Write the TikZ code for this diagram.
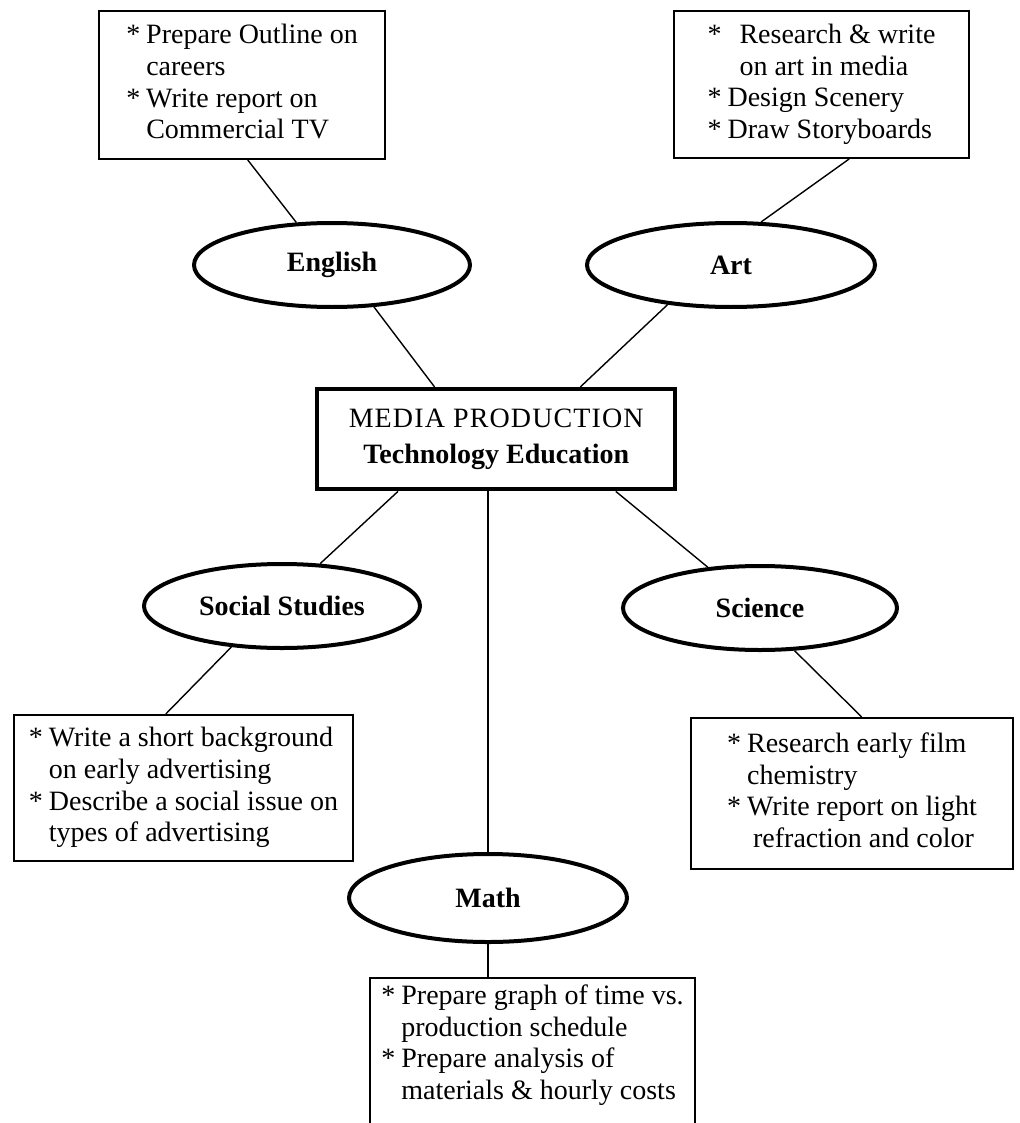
\documentclass[tikz,border=0pt]{standalone}
\usepackage{fontspec}
\setmainfont{Liberation Serif}
\newfontfamily\spacedserif[LetterSpace=4]{Liberation Serif}
\usetikzlibrary{shapes.geometric,calc}
\newcommand{\tasklist}[1]{\begin{tabular}{@{}l@{\hspace{3pt}}l@{}}#1\end{tabular}}
\newcommand{\bul}{{*}}
\begin{document}
\begin{tikzpicture}[x={(0.5pt,0)}, y={(0,-0.5pt)},
  subj/.style={ellipse, draw, line width=2pt, inner sep=0pt, font=\fontsize{14}{15.5}\selectfont\bfseries},
  taskbox/.style={rectangle, draw, line width=1pt, anchor=north west, inner sep=0pt, font=\fontsize{14}{15.8}\selectfont},
  hub/.style={rectangle, draw, line width=2.2pt, anchor=north west, inner sep=0pt, align=center, font=\fontsize{14}{18}\selectfont},
  link/.style={line width=0.7pt}]
\useasboundingbox (0,0) rectangle (1020,1123);

% task boxes
\node[taskbox, minimum width=143pt, minimum height=74pt] (ebox) at (98,10)
  {\tasklist{\bul & Prepare Outline on\\ & careers\\ \bul & Write report on\\ & Commercial TV}};
\node[taskbox, minimum width=147.5pt, minimum height=73.5pt] (abox) at (673,10)
  {\tasklist{\bul & \hspace{6pt}Research \& write\\ & \hspace{6pt}on art in media\\ \bul & Design Scenery\\ \bul & Draw Storyboards}};
\node[taskbox, minimum width=169.5pt, minimum height=73pt] (sbox) at (13,714)
  {\tasklist{\bul & Write a short background\\ & on early advertising\\ \bul & Describe a social issue on\\ & types of advertising}};
\node[taskbox, minimum width=161pt, minimum height=75.5pt] (cbox) at (690,717)
  {\tasklist{\bul & Research early film\\ & chemistry\\ \bul & Write report on light\\ & \hspace{3pt}refraction and color}};
\node[taskbox, draw=none, minimum width=161.5pt, minimum height=66.5pt] (mbox) at (370,978)
  {\tasklist{\bul & Prepare graph of time vs.\\ & production schedule\\ \bul & Prepare analysis of\\ & materials \& hourly costs}};
\draw[line width=1pt] (mbox.south west |- 0,1128) -- (mbox.north west) -- (mbox.north east) -- (mbox.south east |- 0,1128);

% hub
\node[hub, minimum width=179pt, minimum height=50pt] (hub) at (315,387)
  {{\spacedserif MEDIA PRODUCTION}\\ \textbf{Technology Education}};

% subjects
\node[subj, minimum width=138pt, minimum height=42pt] (eng) at (332,265) {English};
\node[subj, minimum width=144pt, minimum height=42pt] (art) at (731,265) {Art};
\node[subj, minimum width=138pt, minimum height=42pt] (soc) at (282,606) {Social Studies};
\node[subj, minimum width=137pt, minimum height=42pt] (sci) at (760,608) {Science};
\node[subj, minimum width=139pt, minimum height=44pt] (math) at (488,898) {Math};

% connectors
\draw[link] ($(ebox.south west)!0.52!(ebox.south east)$) -- (eng.130);
\draw[link] (eng.-45) -- ($(hub.north west)!0.33!(hub.north east)$);
\draw[link] ($(abox.south west)!0.593!(abox.south east)$) -- (art.55);
\draw[link] (art.212) -- ($(hub.north west)!0.732!(hub.north east)$);
\draw[link] ($(hub.south west)!0.229!(hub.south east)$) -- (soc.48);
\draw[link] ($(hub.south west)!0.83!(hub.south east)$) -- (sci.142);
\draw[link] (hub.south -| math.north) -- (math.north);
\draw[link] (soc.219) -- ($(sbox.north west)!0.448!(sbox.north east)$);
\draw[link] (sci.-51) -- ($(cbox.north west)!0.53!(cbox.north east)$);
\draw[link] (math.south) -- (mbox.north -| math.south);
\end{tikzpicture}
\end{document}
